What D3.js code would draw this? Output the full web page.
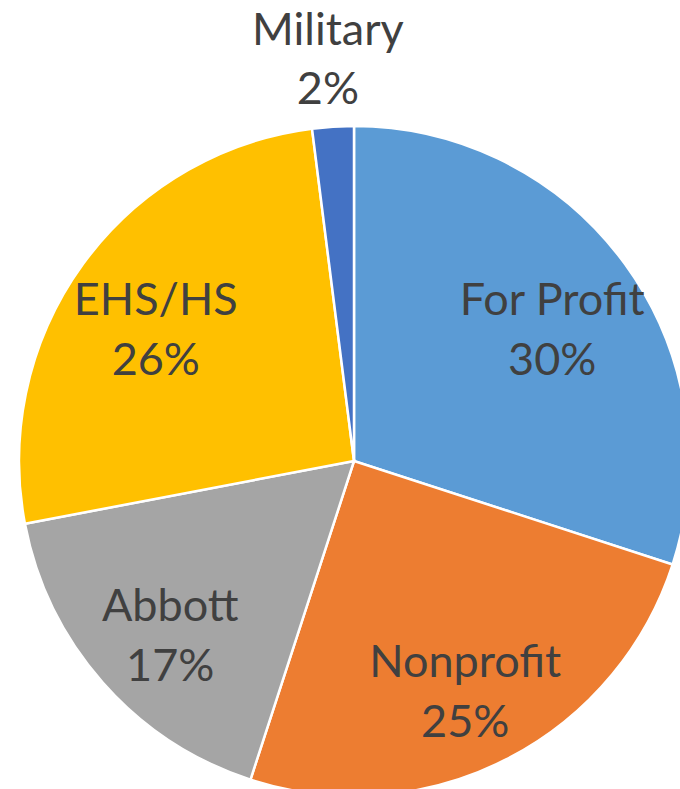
<!DOCTYPE html>
<html>
<head>
<meta charset="utf-8">
<script src="https://cdn.jsdelivr.net/npm/d3@7"></script>
<style>
  body { margin: 0; background: #fff; }
  svg { display: block; }
  .label { font-family: Lato, "Open Sans", sans-serif; font-size: 45px; fill: #404040; }
</style>
</head>
<body>
<svg id="chart"></svg>
<script>
const categories = ['For Profit', 'Nonprofit', 'Abbott', 'EHS/HS', 'Military']
const values = [30, 25, 17, 26, 2]
const colors = ['#5B9BD5', '#ED7D31', '#A5A5A5', '#FFC000', '#4472C4']

const dims = { width: 680, height: 789 }
const center = { x: 354, y: 461 }
const radius = 335

const data = categories.map(function (c, i) {
    return { name: c, value: values[i], color: colors[i] }
})

const total = d3.sum(values)

var svg = d3.select('#chart')
            .attr('width', dims.width)
            .attr('height', dims.height)

var g = svg.append('g')
           .attr('transform', `translate(${center.x}, ${center.y})`)

var pie = d3.pie()
            .sort(null)
            .value(function (d) { return d.value })

var arc = d3.arc().innerRadius(0).outerRadius(radius)
var labelArc = d3.arc().innerRadius(245).outerRadius(245)
var outerArc = d3.arc().innerRadius(415).outerRadius(415)

var arcs = pie(data)

g.selectAll('.slice')
 .data(arcs)
 .enter().append('path')
 .attr('class', 'slice')
 .attr('d', arc)
 .attr('fill', function (d) { return d.data.color })
 .attr('stroke', '#fff')
 .attr('stroke-width', 2.5)

// labels: small slices go outside the pie
var label = g.selectAll('.label')
             .data(arcs)
             .enter().append('text')
             .attr('class', 'label')
             .attr('text-anchor', 'middle')
             .attr('transform', function (d) {
                 var small = d.data.value / total < 0.05
                 var c = small ? outerArc.centroid(d) : labelArc.centroid(d)
                 return `translate(${c[0]}, ${c[1]})`
             })

label.append('tspan')
     .attr('x', 0)
     .attr('dy', '-0.05em')
     .text(function (d) { return d.data.name })

label.append('tspan')
     .attr('x', 0)
     .attr('dy', '1.33em')
     .text(function (d) { return Math.round(d.data.value / total * 100) + '%' })
</script>
</body>
</html>
